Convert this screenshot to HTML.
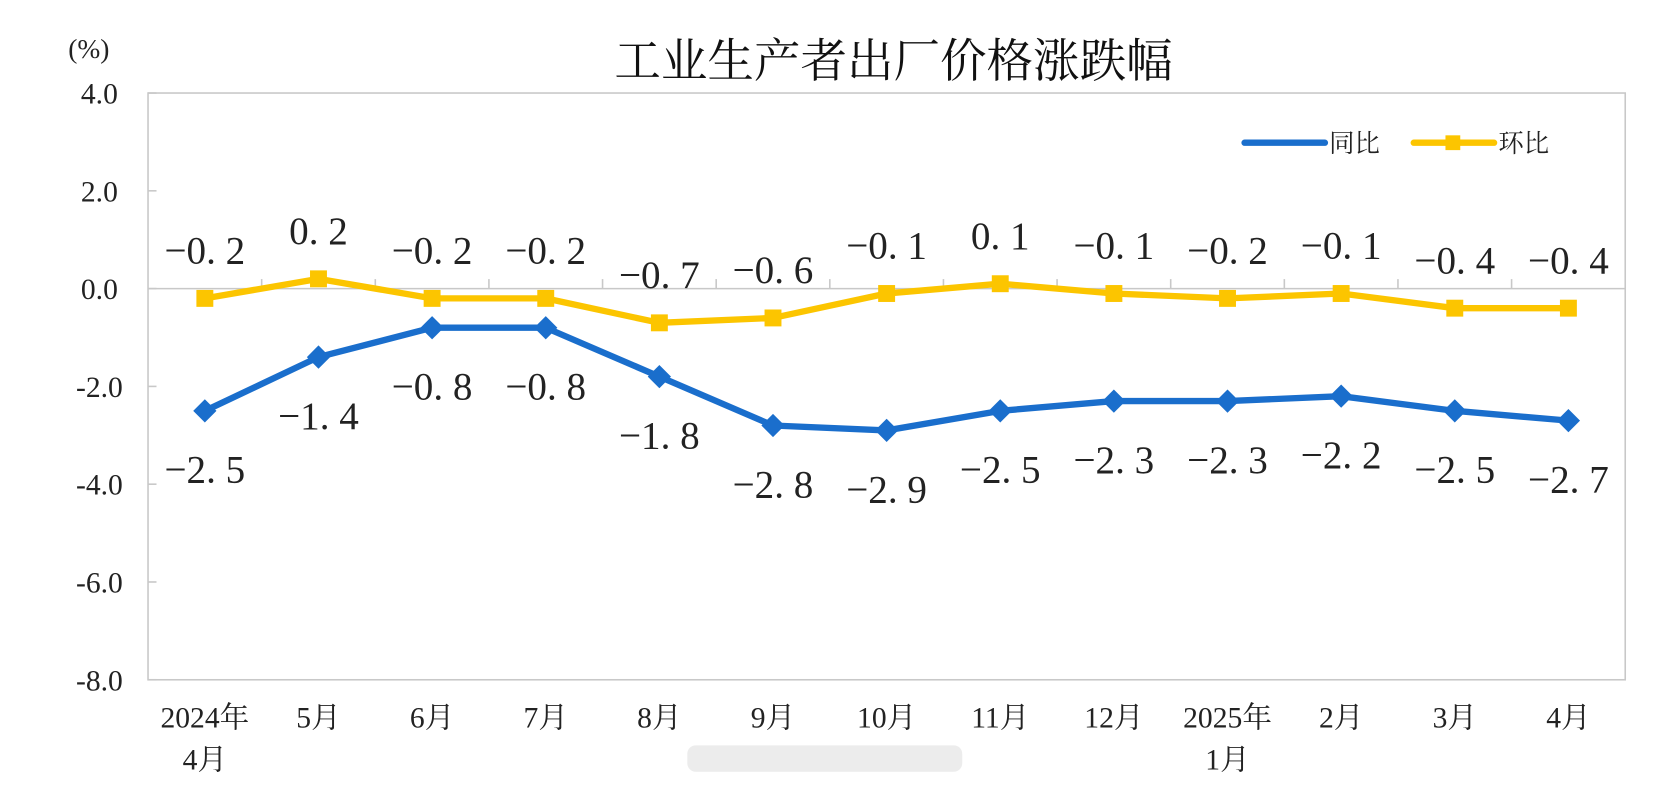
<!DOCTYPE html>
<html><head><meta charset="utf-8"><style>
body{margin:0;background:#fff;}
svg text{font-family:"Liberation Serif","Noto Serif CJK SC",serif;}
</style></head><body>
<svg id="c" width="1658" height="795" viewBox="0 0 1568 752" preserveAspectRatio="none" xmlns="http://www.w3.org/2000/svg"></svg>
<script>
const categories=["2024年|4月","5月","6月","7月","8月","9月","10月","11月","12月","2025年|1月","2月","3月","4月"];
const yoy=[-2.5,-1.4,-0.8,-0.8,-1.8,-2.8,-2.9,-2.5,-2.3,-2.3,-2.2,-2.5,-2.7];
const mom=[-0.2,0.2,-0.2,-0.2,-0.7,-0.6,-0.1,0.1,-0.1,-0.2,-0.1,-0.4,-0.4];
const yTicks=[4,2,0,-2,-4,-6,-8];
const L=140,R=1537,T=88,B=643,ymax=4,ymin=-8;
const bw=(R-L)/categories.length;
const X=i=>L+bw*(i+0.5);
const Y=v=>T+(ymax-v)/(ymax-ymin)*(B-T);
const svg=document.getElementById('c');
const NS="http://www.w3.org/2000/svg";
function mk(t,a,p){const e=document.createElementNS(NS,t);for(const k in a)e.setAttribute(k,a[k]);(p||svg).appendChild(e);return e;}
function fmt(v){const s=(v<0?"−":"")+Math.abs(v).toFixed(1);return s.replace(".",". ");}
let e;
e=mk('text',{x:845,y:73,'text-anchor':'middle','font-size':44,'font-family':'"Noto Sans CJK SC",sans-serif',fill:'#111'});e.textContent="工业生产者出厂价格涨跌幅";


e=mk('text',{x:84,y:55,'text-anchor':'middle','font-size':26,fill:'#222'});e.textContent="(%)";


e=mk('rect',{x:L,y:T,width:R-L,height:B-T,fill:'none',stroke:'#c8c8c8','stroke-width':1.5});


yTicks.forEach(v=>{
 e=mk('text',{x:94,y:Y(v)+10,'text-anchor':'middle','font-size':28,fill:'#222'});e.textContent=v.toFixed(1);
 
 
 mk('line',{x1:L,x2:L+8,y1:Y(v),y2:Y(v),stroke:'#c8c8c8','stroke-width':1.5});
});
mk('line',{x1:L,x2:R,y1:Y(0),y2:Y(0),stroke:'#c8c8c8','stroke-width':1.5});
for(let i=1;i<categories.length;i++)mk('line',{x1:L+bw*i,x2:L+bw*i,y1:Y(0)-9,y2:Y(0),stroke:'#c8c8c8','stroke-width':1.5});
categories.forEach((c,i)=>{
 const parts=c.split("|");
 parts.forEach((p,j)=>{
  e=mk('text',{x:X(i),y:688+j*40,'text-anchor':'middle','font-size':28,fill:'#222'});e.textContent=p;
  
  
 });
});
mk('rect',{x:650,y:705,width:260,height:25,fill:'#ececec',rx:8});
const blue="#1a6ecc",yel="#fcc500";
e=mk('polyline',{points:mom.map((v,i)=>X(i)+","+Y(v)).join(" "),fill:'none',stroke:yel,'stroke-width':6,'stroke-linejoin':'round'});


e=mk('polyline',{points:yoy.map((v,i)=>X(i)+","+Y(v)).join(" "),fill:'none',stroke:blue,'stroke-width':6,'stroke-linejoin':'round'});


mom.forEach((v,i)=>{
 e=mk('rect',{x:X(i)-8,y:Y(v)-8,width:16,height:16,fill:yel});
 
 
 e=mk('text',{x:X(i),y:Y(v)-33,'text-anchor':'middle','font-size':37,fill:'#222'});e.textContent=fmt(v);
 
 
});
yoy.forEach((v,i)=>{
 const x=X(i),y=Y(v);
 e=mk('polygon',{points:`${x},${y-11} ${x+11},${y} ${x},${y+11} ${x-11},${y}`,fill:blue});
 
 
 e=mk('text',{x:x,y:y+68,'text-anchor':'middle','font-size':37,fill:'#222'});e.textContent=fmt(v);
 
 
});
mk('line',{x1:1177,x2:1253,y1:135,y2:135,stroke:blue,'stroke-width':6,'stroke-linecap':'round'});
e=mk('text',{x:1257,y:144,'font-size':24,'font-family':'"Noto Sans CJK SC",sans-serif',fill:'#222'});e.textContent="同比";


mk('line',{x1:1337,x2:1413,y1:135,y2:135,stroke:yel,'stroke-width':6,'stroke-linecap':'round'});
mk('rect',{x:1367,y:128,width:14,height:14,fill:yel});
e=mk('text',{x:1417,y:144,'font-size':24,'font-family':'"Noto Sans CJK SC",sans-serif',fill:'#222'});e.textContent="环比";


</script>
</body></html>
